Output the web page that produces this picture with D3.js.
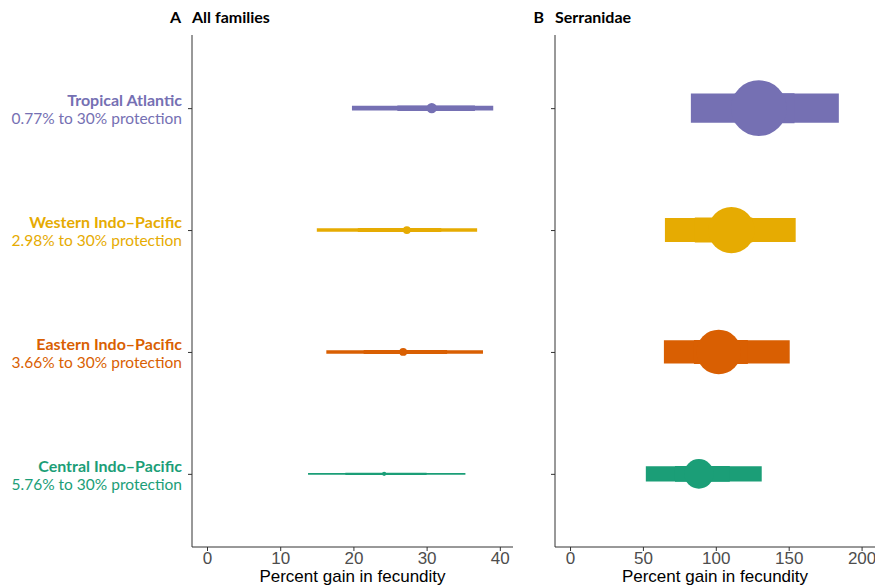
<!DOCTYPE html>
<html lang="en">
<head>
  <meta charset="UTF-8">
  <title>Percent gain in fecundity</title>
  <script src="https://d3js.org/d3.v7.min.js"></script>
  <style>
    body { margin: 0; background: #fff; }
    .tick text { font-family: "Liberation Sans", Arial, sans-serif; font-size: 17px; fill: #4d4d4d; }
    .axis path, .axis line { stroke: #333; }
    .axis-title { font-family: "Liberation Sans", Arial, sans-serif; font-size: 17px; fill: #000; }
    .panel-title { font-family: Lato, "Open Sans", sans-serif; font-size: 16px; font-weight: bold; }
    .region-name { font-family: Lato, "Open Sans", sans-serif; font-size: 16px; font-weight: bold; }
    .region-sub { font-family: Lato, "Open Sans", sans-serif; font-size: 15.5px; }
  </style>
</head>
<body>
<div id="chart"></div>
<script>
  // regions, bottom to top on the axis
  const regions = ["Central Indo–Pacific", "Eastern Indo–Pacific", "Western Indo–Pacific", "Tropical Atlantic"];
  const protection = ["5.76% to 30% protection", "3.66% to 30% protection", "2.98% to 30% protection", "0.77% to 30% protection"];
  const regionColors = ["#1b9e77", "#d95f02", "#e6ab02", "#7570b3"];

  // panel A: all families
  const allMid = [24.2, 26.8, 27.3, 30.7];
  const allLo95 = [13.8, 16.3, 15.0, 19.8];
  const allHi95 = [35.3, 37.7, 36.9, 39.1];
  const allLo66 = [18.9, 21.4, 20.6, 26.0];
  const allHi66 = [30.0, 32.8, 32.0, 36.6];
  const allWeight = [0.4, 0.75, 0.75, 1.0];
  const allTicks = [0, 10, 20, 30, 40];

  // panel B: Serranidae
  const serMid = [88.4, 102, 110.7, 129.5];
  const serLo95 = [52, 64.4, 65.1, 82.9];
  const serHi95 = [131.5, 150.7, 154.8, 184.4];
  const serLo66 = [72, 85, 85.6, 113];
  const serHi66 = [109.6, 122, 125, 154];
  const serWeight = [0.53, 0.8, 0.83, 1.0];
  const serTicks = [0, 50, 100, 150, 200];

  const W = 875, H = 586;
  const plotTop = 35, plotBottom = 547;

  const svg = d3.select("#chart").append("svg")
    .attr("width", W).attr("height", H);

  const y = d3.scalePoint()
    .domain(regions)
    .range([plotBottom, plotTop])
    .padding(0.6);

  function drawPanel(opts) {
    const x = d3.scaleLinear().domain(opts.domain).range([opts.left, opts.right]);
    const thick = d3.scaleLinear().domain([0, 1]).range([0, opts.maxThick]);
    const g = svg.append("g");

    // y axis
    const yAxis = g.append("g")
      .attr("class", "axis")
      .attr("transform", `translate(${opts.left},0)`)
      .call(d3.axisLeft(y).tickSize(4).tickFormat(""));
    yAxis.select(".domain").attr("d", `M0,${plotTop}V${plotBottom}`);

    // x axis
    const xAxis = g.append("g")
      .attr("class", "axis")
      .attr("transform", `translate(0,${plotBottom})`)
      .call(d3.axisBottom(x).tickValues(opts.ticks).tickSize(4).tickPadding(1));
    xAxis.select(".domain").attr("d", `M${opts.left},0H${opts.right}`);

    g.append("text")
      .attr("class", "axis-title")
      .attr("x", (opts.left + opts.right) / 2)
      .attr("y", 582)
      .attr("text-anchor", "middle")
      .text("Percent gain in fecundity");

    // panel title
    g.append("text").attr("class", "panel-title")
      .attr("x", opts.left - 11).attr("y", 23).attr("text-anchor", "end")
      .text(opts.letter);
    g.append("text").attr("class", "panel-title")
      .attr("x", opts.left).attr("y", 23)
      .text(opts.title);

    regions.forEach((r, i) => {
      const cy = y(r);
      const w = thick(opts.weight[i]);
      g.append("line")
        .attr("x1", x(opts.lo95[i])).attr("x2", x(opts.hi95[i]))
        .attr("y1", cy).attr("y2", cy)
        .attr("stroke", regionColors[i])
        .attr("stroke-width", w * opts.outerFactor);
      g.append("line")
        .attr("x1", x(opts.lo66[i])).attr("x2", x(opts.hi66[i]))
        .attr("y1", cy).attr("y2", cy)
        .attr("stroke", regionColors[i])
        .attr("stroke-width", w);
      g.append("circle")
        .attr("cx", x(opts.mid[i])).attr("cy", cy)
        .attr("r", w * opts.pointFactor)
        .attr("fill", regionColors[i]);
    });
  }

  drawPanel({
    left: 192, right: 513, domain: [-2.05, 41.8], ticks: allTicks,
    letter: "A", title: "All families",
    mid: allMid, lo95: allLo95, hi95: allHi95, lo66: allLo66, hi66: allHi66,
    weight: allWeight, maxThick: 5.5, outerFactor: 0.88, pointFactor: 0.95
  });

  drawPanel({
    left: 555, right: 875, domain: [-10.3, 209.2], ticks: serTicks,
    letter: "B", title: "Serranidae",
    mid: serMid, lo95: serLo95, hi95: serHi95, lo66: serLo66, hi66: serHi66,
    weight: serWeight, maxThick: 30, outerFactor: 0.97, pointFactor: 0.93
  });

  // region labels on the left
  const labels = svg.append("g");
  regions.forEach((r, i) => {
    const cy = y(r);
    labels.append("text").attr("class", "region-name")
      .attr("x", 182).attr("y", cy - 2).attr("text-anchor", "end")
      .attr("fill", regionColors[i]).text(r);
    labels.append("text").attr("class", "region-sub")
      .attr("x", 182).attr("y", cy + 16).attr("text-anchor", "end")
      .attr("fill", regionColors[i]).text(protection[i]);
  });
</script>
</body>
</html>
